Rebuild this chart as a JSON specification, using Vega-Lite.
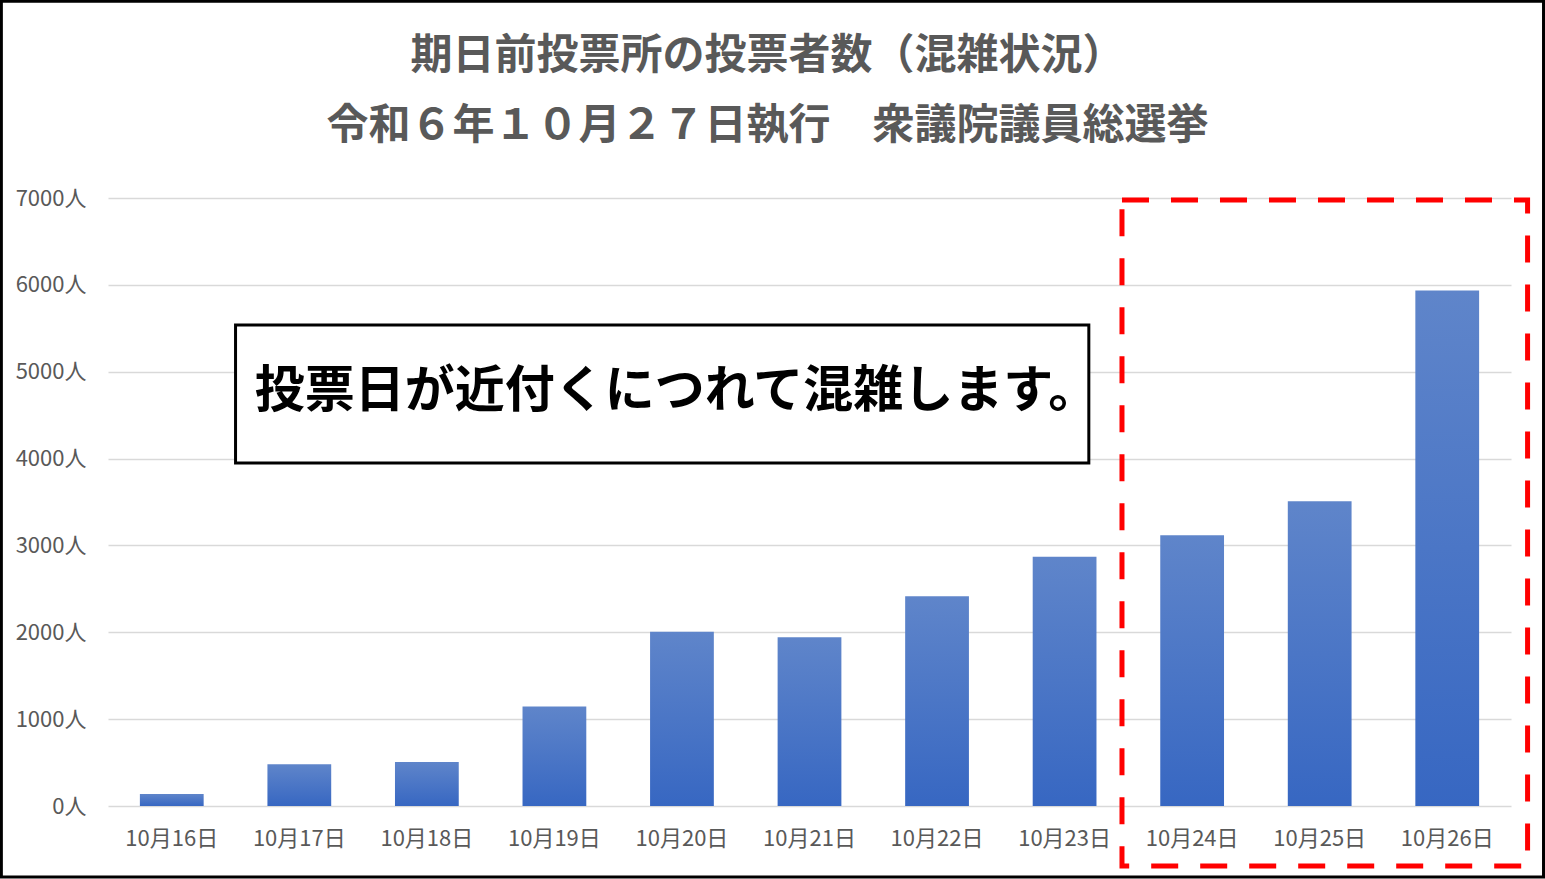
{
  "$schema": "https://vega.github.io/schema/vega-lite/v6.json",
  "width": 1403,
  "height": 608,
  "autosize": {"type": "none"},
  "padding": {"left": 108, "top": 198, "right": 34, "bottom": 73},
  "background": "white",
  "title": {
    "text": ["期日前投票所の投票者数（混雑状況）", "令和６年１０月２７日執行　衆議院議員総選挙"],
    "fontSize": 42,
    "fontWeight": "bold",
    "color": "#595959",
    "lineHeight": 70,
    "anchor": "middle",
    "baseline": "top",
    "dx": -42,
    "offset": -148
  },
  "datasets": {
    "votes": [
      {"date": "10月16日", "count": 138},
      {"date": "10月17日", "count": 481},
      {"date": "10月18日", "count": 508},
      {"date": "10月19日", "count": 1145},
      {"date": "10月20日", "count": 2005},
      {"date": "10月21日", "count": 1943},
      {"date": "10月22日", "count": 2416},
      {"date": "10月23日", "count": 2870},
      {"date": "10月24日", "count": 3118},
      {"date": "10月25日", "count": 3508},
      {"date": "10月26日", "count": 5934}
    ],
    "note": [
      {"x1": 1.0, "x2": 7.69, "y1": 5538, "y2": 3949, "xt": 1.15, "yt": 4766, "label": "投票日が近付くにつれて混雑します。"}
    ],
    "highlight": [
      {"x1": 7.95, "x2": 11.13, "y1": 6977, "y2": -691}
    ],
    "frame": [
      {"x1": -0.836, "x2": 11.255, "y1": 9265, "y2": -817}
    ]
  },
  "resolve": {"scale": {"x": "independent"}},
  "layer": [
    {
      "data": {"name": "votes"},
      "mark": {
        "type": "bar",
        "color": {
          "gradient": "linear",
          "x1": 0, "y1": 0, "x2": 0, "y2": 1,
          "stops": [
            {"offset": 0, "color": "#5F85CA"},
            {"offset": 1, "color": "#3767C2"}
          ]
        }
      },
      "encoding": {
        "x": {
          "field": "date",
          "type": "nominal",
          "sort": null,
          "scale": {"paddingInner": 0.5, "paddingOuter": 0.25},
          "axis": {
            "title": null,
            "labelAngle": 0,
            "labelFontSize": 22,
            "labelColor": "#595959",
            "labelPadding": 22,
            "ticks": false,
            "domain": false,
            "grid": false
          }
        },
        "y": {
          "field": "count",
          "type": "quantitative",
          "scale": {"domain": [0, 7000], "nice": false},
          "axis": {
            "title": null,
            "values": [0, 1000, 2000, 3000, 4000, 5000, 6000, 7000],
            "labelExpr": "datum.value + '人'",
            "labelFontSize": 22,
            "labelColor": "#595959",
            "labelPadding": 22,
            "ticks": false,
            "domain": false,
            "grid": true,
            "gridColor": "#D9D9D9",
            "gridWidth": 1.5
          }
        }
      }
    },
    {
      "data": {"name": "note"},
      "mark": {"type": "rect", "fill": "white", "stroke": "black", "strokeWidth": 3},
      "encoding": {
        "x": {"field": "x1", "type": "quantitative", "scale": {"domain": [0, 11], "nice": false, "zero": false}, "axis": null},
        "x2": {"field": "x2"},
        "y": {"field": "y1", "type": "quantitative", "scale": {"domain": [0, 7000], "nice": false}},
        "y2": {"field": "y2"}
      }
    },
    {
      "data": {"name": "note"},
      "mark": {"type": "text", "fontSize": 50, "fontWeight": "bold", "color": "black", "align": "left", "baseline": "middle"},
      "encoding": {
        "x": {"field": "xt", "type": "quantitative", "scale": {"domain": [0, 11], "nice": false, "zero": false}, "axis": null},
        "y": {"field": "yt", "type": "quantitative", "scale": {"domain": [0, 7000], "nice": false}},
        "text": {"field": "label"}
      }
    },
    {
      "data": {"name": "highlight"},
      "mark": {"type": "rect", "fill": null, "stroke": "#FF0000", "strokeWidth": 5, "strokeDash": [27, 22]},
      "encoding": {
        "x": {"field": "x1", "type": "quantitative", "scale": {"domain": [0, 11], "nice": false, "zero": false}, "axis": null},
        "x2": {"field": "x2"},
        "y": {"field": "y1", "type": "quantitative", "scale": {"domain": [0, 7000], "nice": false}},
        "y2": {"field": "y2"}
      }
    },
    {
      "data": {"name": "frame"},
      "mark": {"type": "rect", "fill": null, "stroke": "black", "strokeWidth": 3},
      "encoding": {
        "x": {"field": "x1", "type": "quantitative", "scale": {"domain": [0, 11], "nice": false, "zero": false}, "axis": null},
        "x2": {"field": "x2"},
        "y": {"field": "y1", "type": "quantitative", "scale": {"domain": [0, 7000], "nice": false}},
        "y2": {"field": "y2"}
      }
    }
  ],
  "config": {
    "font": "Noto Sans CJK JP",
    "view": {"stroke": null}
  }
}
